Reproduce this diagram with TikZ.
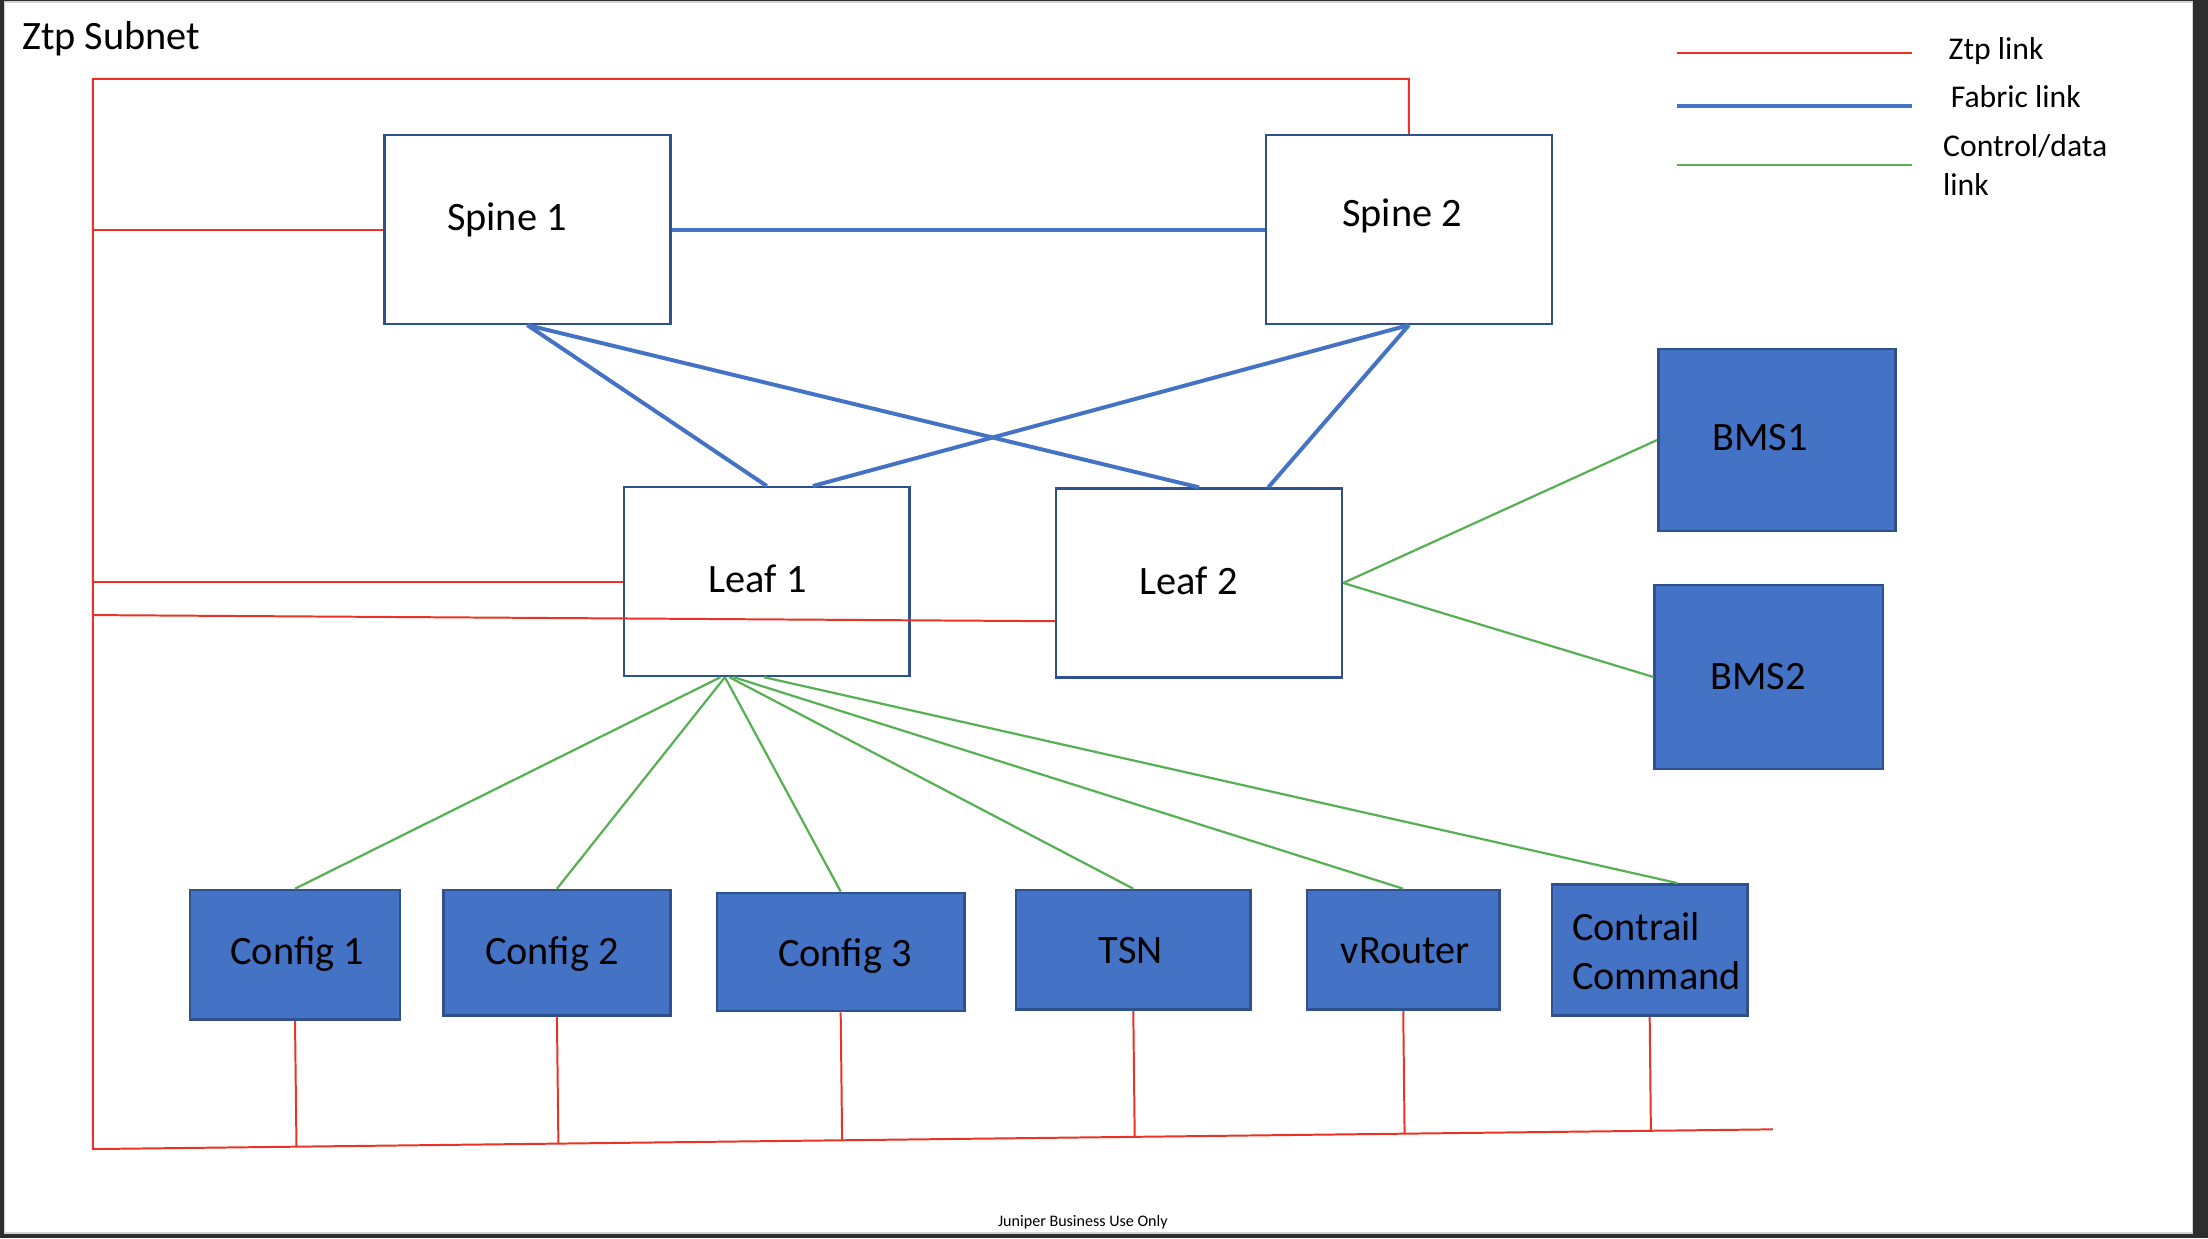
\documentclass[tikz,border=0pt]{standalone}
\usepackage{fontspec}
\setmainfont{Carlito}
\usetikzlibrary{calc}
\definecolor{boxblue}{HTML}{4472C4}
\definecolor{edgeblue}{HTML}{2F528F}
\definecolor{ztpred}{RGB}{234,51,35}
\definecolor{ctlgreen}{RGB}{88,176,84}
\definecolor{screen}{RGB}{45,45,45}
\tikzset{
  devbase/.style 2 args={rectangle, draw=edgeblue, line width=1pt, inner sep=0pt,
    minimum width={#1*0.02cm}, minimum height={#2*0.02cm}},
  wbox/.style 2 args={devbase={#1}{#2}},
  bbox/.style 2 args={devbase={#1}{#2}, fill=boxblue},
  lbl/.style={inner sep=0pt, anchor=base, font=\fontsize{16.3}{19.9}\selectfont},
  legtxt/.style={inner sep=0pt, anchor=base west, align=left, font=\fontsize{12.8}{15.4}\selectfont},
  ztp/.style={draw=ztpred, line width=0.8pt},
  fabric/.style={draw=boxblue, line width=1.6pt},
  ctl/.style={draw=ctlgreen, line width=0.9pt},
}
\begin{document}
\begin{tikzpicture}[x=0.02cm, y=-0.02cm]
	% screen frame
	\fill[screen] (0,0) rectangle (1568,879.2);
	\fill[white, draw=gray!35, line width=0.6pt] (3.3,1.5) rectangle (1556.8,875.7);
	\useasboundingbox (0,0) rectangle (1568,879.2);
	\node[lbl, anchor=base west] (title) at (15.4,35) {Ztp Subnet};
	% legend (base of a two-line text is its last line)
	\node[legtxt] (leg ztp) at (1383.5,42.6) {Ztp link};
	\node[legtxt] (leg fabric) at (1385,76) {Fabric link};
	\node[legtxt] (leg ctl) at (1379.6,138.5) {Control/data\\link};
	\draw[ztp] (1191,37.4) -- (1358,37.4);
	\draw[fabric, line width=1.4pt] (1191,75.3) -- (1358,75.3);
	\draw[ctl] (1191,117) -- (1358,117);
	% fabric
	\node[wbox={203}{134}] (spine1) at (374.5,163) {};
	\node[wbox={203}{134}] (spine2) at (1000.5,163) {};
	\node[wbox={203}{134}] (leaf1) at (544.5,413) {};
	\node[wbox={203}{134}] (leaf2) at (851.5,414) {};
	\node[lbl] (spine1 txt) at (360,164) {Spine 1};
	\node[lbl] (spine2 txt) at (995.7,160.5) {Spine 2};
	\node[lbl] (leaf1 txt) at (538,421) {Leaf 1};
	\node[lbl] (leaf2 txt) at (844,422) {Leaf 2};
	% servers
	\node[bbox={168.4}{129}] (bms1) at (1261.8,312.5) {};
	\node[bbox={162}{130.5}] (bms2) at (1256,480.75) {};
	\node[bbox={149}{92}] (cfg1) at (209.5,678) {};
	\node[bbox={161}{89}] (cfg2) at (395.5,676.5) {};
	\node[bbox={176}{84}] (cfg3) at (597,676) {};
	\node[bbox={166.4}{85}] (tsn) at (804.8,674.5) {};
	\node[bbox={137}{85}] (vrouter) at (996.5,674.5) {};
	\node[bbox={139}{93}] (cc) at (1171.5,674.5) {};
	\node[lbl] (bms1 txt) at (1250,319.6) {BMS1};
	\node[lbl] (bms2 txt) at (1248.6,489.5) {BMS2};
	\node[lbl] (cfg1 txt) at (211,685) {Config 1};
	\node[lbl] (cfg2 txt) at (392,685) {Config 2};
	\node[lbl] (cfg3 txt) at (600,686) {Config 3};
	\node[lbl] (tsn txt) at (803,684) {TSN};
	\node[lbl] (vrouter txt) at (998,684) {vRouter};
	\node[lbl, anchor=base west, align=left] (cc txt) at (1116,702.6) {Contrail\\Command};
	% fabric links
	\draw[fabric] (spine1.east) -- (spine2.west);
	\draw[fabric] (spine1.south) -- (leaf1.north);
	\draw[fabric] (spine1.south) -- (leaf2.north);
	\draw[fabric] (spine2.south) -- ($(leaf1.north west)!0.66!(leaf1.north east)$);
	\draw[fabric] (spine2.south) -- ($(leaf2.north west)!0.74!(leaf2.north east)$);
	% control/data links
	\draw[ctl] (leaf2.east) -- (bms1.west);
	\draw[ctl] (leaf2.east) -- (bms2.west);
	\foreach \dev/\f in {cfg1/0.34, cfg2/0.355, cfg3/0.355, tsn/0.37, vrouter/0.385}
		\draw[ctl] ($(leaf1.south west)!\f!(leaf1.south east)$) -- (\dev.north);
	\draw[ctl] ($(leaf1.south west)!0.49!(leaf1.south east)$) -- ($(cc.north west)!0.64!(cc.north east)$);
	% ztp subnet
	\coordinate (ztpTL) at (66,56);
	\coordinate (busL) at (66,816);
	\coordinate (busR) at (1259,802);
	\coordinate (tapL2) at (66,436.8);
	\draw[ztp] (spine2.north) -- (spine2.north |- ztpTL) -- (ztpTL) -- (busL) -- (busR);
	\draw[ztp] (ztpTL |- spine1.west) -- (spine1.west);
	\draw[ztp] (ztpTL |- leaf1.west) -- (leaf1.west);
	\draw[ztp] (tapL2) -- ($(leaf2.south west)!0.3!(leaf2.north west)$);
	\foreach \dev in {cfg1,cfg2,cfg3,tsn,vrouter,cc}
		\draw[ztp] (\dev.south) -- ($(busL)!(\dev.south)!(busR)$);
	\node[inner sep=0pt, anchor=base, font=\fontsize{6.5}{8}\selectfont] (footer) at (769,871) {Juniper Business Use Only};
\end{tikzpicture}
\end{document}
